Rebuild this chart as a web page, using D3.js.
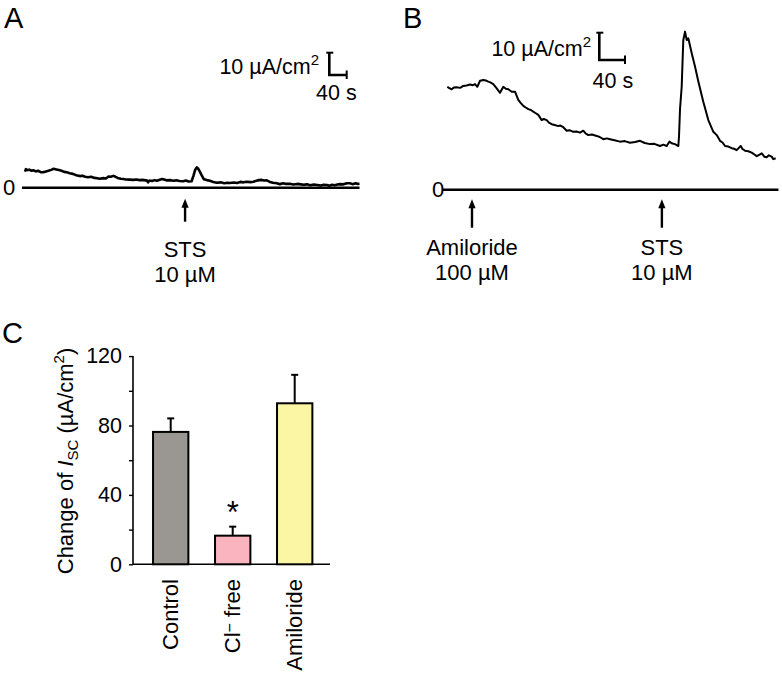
<!DOCTYPE html>
<html>
<head>
<meta charset="utf-8">
<script src="https://cdn.jsdelivr.net/npm/d3@7"></script>
<style>
  html, body { margin: 0; padding: 0; background: #fff; }
  svg { display: block; font-family: "Liberation Sans", Arial, sans-serif; }
</style>
</head>
<body>
<svg id="chart" width="782" height="676"></svg>
<script>
// ---------------- DATA ----------------
// Panel A trace: time (s) and Isc (µA/cm²)
const traceATime = [0,2,6,10,15,19,25,30,36,42,48,54,60,66,72,78,84,90,96,103,110,118,126,132,138,145,152,160,166,172,180,186,192,197,203,207,213,220,226,232,240,249,256,263,270,277,280,283,286,292,298,303,310,315,318,325,333,341,348,355,364,370,376,383,387,391,395,398,402,406,411,418,425,433,441,450,458,465,471,480,488,495,502,510,518,525,532,538,544,550,556,563,570,579,586,594,600,609,617,626,634,641,648,656,664,672,680,687,694,700,706,712,718,724,732,740,747,753,760,765,769];
const traceACurrent = [7.2,8.3,7.9,8.1,7.6,7.8,7.3,7.6,7.0,6.9,7.3,7.6,8.0,8.5,8.2,7.9,7.6,7.1,6.9,6.5,6.2,5.6,5.2,5.4,4.9,4.7,4.9,4.4,4.2,4.0,4.3,4.1,5.0,4.9,5.3,5.0,4.4,4.0,3.9,3.7,3.6,3.5,3.7,3.4,3.5,3.3,3.3,2.4,3.2,3.0,3.4,3.1,3.6,3.9,3.8,3.3,3.4,3.1,3.3,3.0,2.9,3.2,2.8,2.9,5.2,7.9,9.1,8.6,7.2,5.6,3.8,3.4,3.1,2.6,2.2,2.4,2.0,2.2,2.1,2.3,2.1,2.6,2.4,2.7,2.5,2.7,3.1,3.4,3.5,3.2,3.3,2.6,2.2,2.0,1.6,2.0,1.7,1.8,1.4,1.7,1.5,1.3,1.5,1.1,1.4,1.2,1.0,1.3,1.2,0.9,1.3,1.1,1.4,1.6,1.5,2.0,2.0,1.6,2.0,1.7,1.8];
const baselineA = [-7, 769];
const arrowATimes = [368];
const arrowALabels = [["STS", "10 µM"]];

// Panel B trace
const traceBTime = [0,3,6.8,10,14.6,20,24.9,30,35.3,40,43.1,46.7,50.9,56.0,60,63.8,67,71.5,76.8,82.0,87.1,91,94.9,100.2,105.3,110.4,114,118.2,122,126.0,130,133.7,137,141.5,146.8,150,154.6,158,162.4,167,172.6,176,180.4,185.7,190,196.0,201,206.4,211.5,215,219.3,225,232.3,237,242.6,248,253.0,260,268.5,276,284.1,292,299.7,307,315.2,322,330.8,336,341.2,345.3,350,354.1,359.3,360.3,361.9,364.5,367.0,369.7,372.3,374.8,380.1,385.2,390.4,398.1,405.9,413.7,419.0,424.1,428,431.9,437,442.3,446,450.1,456.3,459,463.0,468,473.4,477,481.2,485,489.0,493,496.7,500,504.5,507,510.7];
const traceBCurrent = [37.7,37.2,36.8,37.4,37.5,37.3,38.0,38.2,38.5,38.3,38.7,37.7,39.9,40.2,40.0,39.6,39.3,38.7,37.1,35.5,37.7,37.0,36.8,35.9,35.9,32.9,31.8,30.7,30.1,29.5,29.2,28.6,28.1,27.4,25.5,25.9,25.5,24.6,24.0,23.7,23.3,23.5,22.9,21.6,21.8,21.2,21.3,20.9,21.6,20.6,20.0,20.2,19.7,19.3,18.5,18.8,18.5,18.1,17.6,17.8,17.2,17.5,17.9,17.1,16.7,16.8,16.0,16.5,16.0,17.6,16.9,16.7,16.0,19.4,29.5,37.7,54.8,57.9,54.8,55.5,50.0,45.1,39.6,32.2,25.5,21.2,20.0,17.9,17.3,16.0,15.8,15.2,15.0,14.5,16.0,14.9,14.3,14.1,13.6,13.0,12.3,12.8,13.3,12.1,11.9,12.6,12.1,11.2,11.5];
const baselineB = [-7, 515];
const arrowBTimes = [38.4, 333.7];
const arrowBLabels = [["Amiloride", "100 µM"], ["STS", "10 µM"]];

// Scale bars (value units)
const scaleBarCurrent = 10;   // µA/cm²
const scaleBarTime = 40;      // s

// Panel C bar chart
const categories = ["Control", "Cl− free", "Amiloride"];
const meanValues = [76.3, 16.5, 92.8];
const semValues = [7.8, 5.2, 16.4];
const barColors = ["#9a9792", "#f9b4c0", "#fbf6a4"];
const significant = [false, true, false];
const yTickValues = [0, 20, 40, 60, 80, 100, 120];
const yTickLabels = [0, 40, 80, 120];

// ---------------- DRAW ----------------
const svg = d3.select("#chart");
const FS = 22;

function panelLabel(txt, x, y) {
  svg.append("text").attr("x", x).attr("y", y).attr("font-size", 29).attr("fill", "#000").text(txt);
}
panelLabel("A", 4, 28);
panelLabel("B", 403, 28);
panelLabel("C", 2, 343);

function drawTrace(opts) {
  const { time, current, x, y, baseline, arrows, labels, sbX, sbY, sbText, zeroX, width, arrowY, labelY } = opts;
  svg.append("line")
    .attr("x1", x(baseline[0])).attr("x2", x(baseline[1]))
    .attr("y1", y(0)).attr("y2", y(0))
    .attr("stroke", "#000").attr("stroke-width", 2.6);
  svg.append("text").attr("x", zeroX).attr("y", y(0)).attr("dy", "0.35em")
    .attr("text-anchor", "middle").attr("font-size", FS).text("0");
  const pts = time.map((t, i) => [t, current[i]]);
  svg.append("path").datum(pts)
    .attr("d", d3.line().x(d => x(d[0])).y(d => y(d[1])))
    .attr("fill", "none").attr("stroke", "#000").attr("stroke-width", width)
    .attr("stroke-linejoin", "round");
  arrows.forEach((t, i) => {
    const ax = x(t), top = y(0) + arrowY[0], bot = y(0) + arrowY[1];
    svg.append("line").attr("x1", ax).attr("x2", ax).attr("y1", top + 5).attr("y2", bot)
      .attr("stroke", "#000").attr("stroke-width", 2.4);
    svg.append("path")
      .attr("d", `M${ax},${top} L${ax - 3.6},${top + 9} L${ax + 3.6},${top + 9} Z`)
      .attr("fill", "#000");
    const tl = svg.append("text").attr("text-anchor", "middle").attr("font-size", FS);
    tl.append("tspan").attr("x", ax).attr("y", y(0) + labelY[0]).text(labels[i][0]);
    tl.append("tspan").attr("x", ax).attr("y", y(0) + labelY[1]).text(labels[i][1]);
  });
  const w = x(scaleBarTime) - x(0);
  const h = y(0) - y(scaleBarCurrent);
  const g = svg.append("g").attr("stroke", "#000").attr("stroke-width", 2.6).attr("fill", "none");
  g.append("path").attr("d", `M${sbX},${sbY - h} L${sbX},${sbY} L${sbX + w},${sbY}`);
  g.append("line").attr("x1", sbX - 3).attr("x2", sbX + 4).attr("y1", sbY - h).attr("y2", sbY - h).attr("stroke-width", 2);
  g.append("line").attr("x1", sbX + w).attr("x2", sbX + w).attr("y1", sbY - 4.5).attr("y2", sbY + 4).attr("stroke-width", 2);
  const t1 = svg.append("text").attr("x", sbText[0]).attr("y", sbText[1]).attr("text-anchor", "end").attr("font-size", 21.5);
  t1.append("tspan").text("10 µA/cm");
  t1.append("tspan").attr("dy", -9).attr("font-size", 15).text("2");
  svg.append("text").attr("x", sbText[2]).attr("y", sbText[3]).attr("font-size", 21.5).text(scaleBarTime + " s");
}

const xA = d3.scaleLinear().domain([0, 769]).range([25, 359.5]);
const yA = d3.scaleLinear().domain([0, 10]).range([187.7, 165.4]);
drawTrace({ time: traceATime, current: traceACurrent, x: xA, y: yA, baseline: baselineA,
  arrows: arrowATimes, labels: arrowALabels, sbX: 329.3, sbY: 75,
  sbText: [319, 73.5, 316, 100], zeroX: 9, width: 2.6, arrowY: [11, 34], labelY: [69.5, 94] });

const xB = d3.scaleLinear().domain([0, 510.7]).range([447.3, 775.7]);
const yB = d3.scaleLinear().domain([0, 10]).range([189.7, 162.4]);
drawTrace({ time: traceBTime, current: traceBCurrent, x: xB, y: yB, baseline: baselineB,
  arrows: arrowBTimes, labels: arrowBLabels, sbX: 599.3, sbY: 60,
  sbText: [591, 55.5, 592.5, 87.5], zeroX: 438, width: 2, arrowY: [9.5, 38], labelY: [65.5, 90.5] });

// Panel C
const yC = d3.scaleLinear().domain([0, 120]).range([564.3, 356.1]);
const xC = d3.scaleBand().domain(categories).range([139.7, 325.7]).paddingInner(0.43).paddingOuter(0.215);

const yAxis = d3.axisLeft(yC).tickValues(yTickValues).tickSize(4).tickPadding(7)
  .tickFormat(d => yTickLabels.includes(d) ? d : "");
const gy = svg.append("g").attr("transform", "translate(133,0)").call(yAxis);
gy.select(".domain").attr("stroke-width", 1.6).attr("d", `M0,${yC(120)}V${yC(0)}`);
gy.selectAll(".tick line").attr("stroke-width", 1.4);
gy.selectAll(".tick text").attr("font-size", 21.5).attr("font-family", "Liberation Sans, Arial, sans-serif").attr("fill", "#000");

svg.append("line").attr("x1", 133).attr("x2", 330).attr("y1", yC(0)).attr("y2", yC(0))
  .attr("stroke", "#000").attr("stroke-width", 1.6);

categories.forEach((c, i) => {
  const bx = xC(c), bw = xC.bandwidth(), cx = bx + bw / 2;
  const top = yC(meanValues[i] + semValues[i]);
  svg.append("line").attr("x1", cx).attr("x2", cx)
    .attr("y1", yC(meanValues[i])).attr("y2", top)
    .attr("stroke", "#000").attr("stroke-width", 2);
  svg.append("line").attr("x1", cx - 3.5).attr("x2", cx + 3.5)
    .attr("y1", top).attr("y2", top)
    .attr("stroke", "#000").attr("stroke-width", 2);
  svg.append("rect").attr("x", bx).attr("y", yC(meanValues[i]))
    .attr("width", bw).attr("height", yC(0) - yC(meanValues[i]))
    .attr("fill", barColors[i]).attr("stroke", "#000").attr("stroke-width", 2);
  if (significant[i]) {
    svg.append("text").attr("x", cx).attr("y", top - 3.5)
      .attr("text-anchor", "middle").attr("font-size", 31).text("*");
  }
  const lab = svg.append("text").attr("transform", `translate(${cx},579) rotate(-90)`)
    .attr("text-anchor", "end").attr("dy", "0.33em").attr("font-size", FS);
  if (c.startsWith("Cl")) {
    lab.append("tspan").text("Cl");
    lab.append("tspan").attr("dy", -5).attr("font-size", 16).text("−");
    lab.append("tspan").attr("dy", 5).text(" free");
  } else {
    lab.text(c);
  }
});

const yt = svg.append("text").attr("transform", "translate(73,461) rotate(-90)")
  .attr("text-anchor", "middle").attr("font-size", FS);
yt.append("tspan").text("Change of ");
yt.append("tspan").attr("font-style", "italic").text("I");
yt.append("tspan").attr("dy", 5).attr("font-size", 15).text("SC");
yt.append("tspan").attr("dy", -5).text(" (µA/cm");
yt.append("tspan").attr("dy", -9).attr("font-size", 15).text("2");
yt.append("tspan").attr("dy", 9).text(")");
</script>
</body>
</html>
